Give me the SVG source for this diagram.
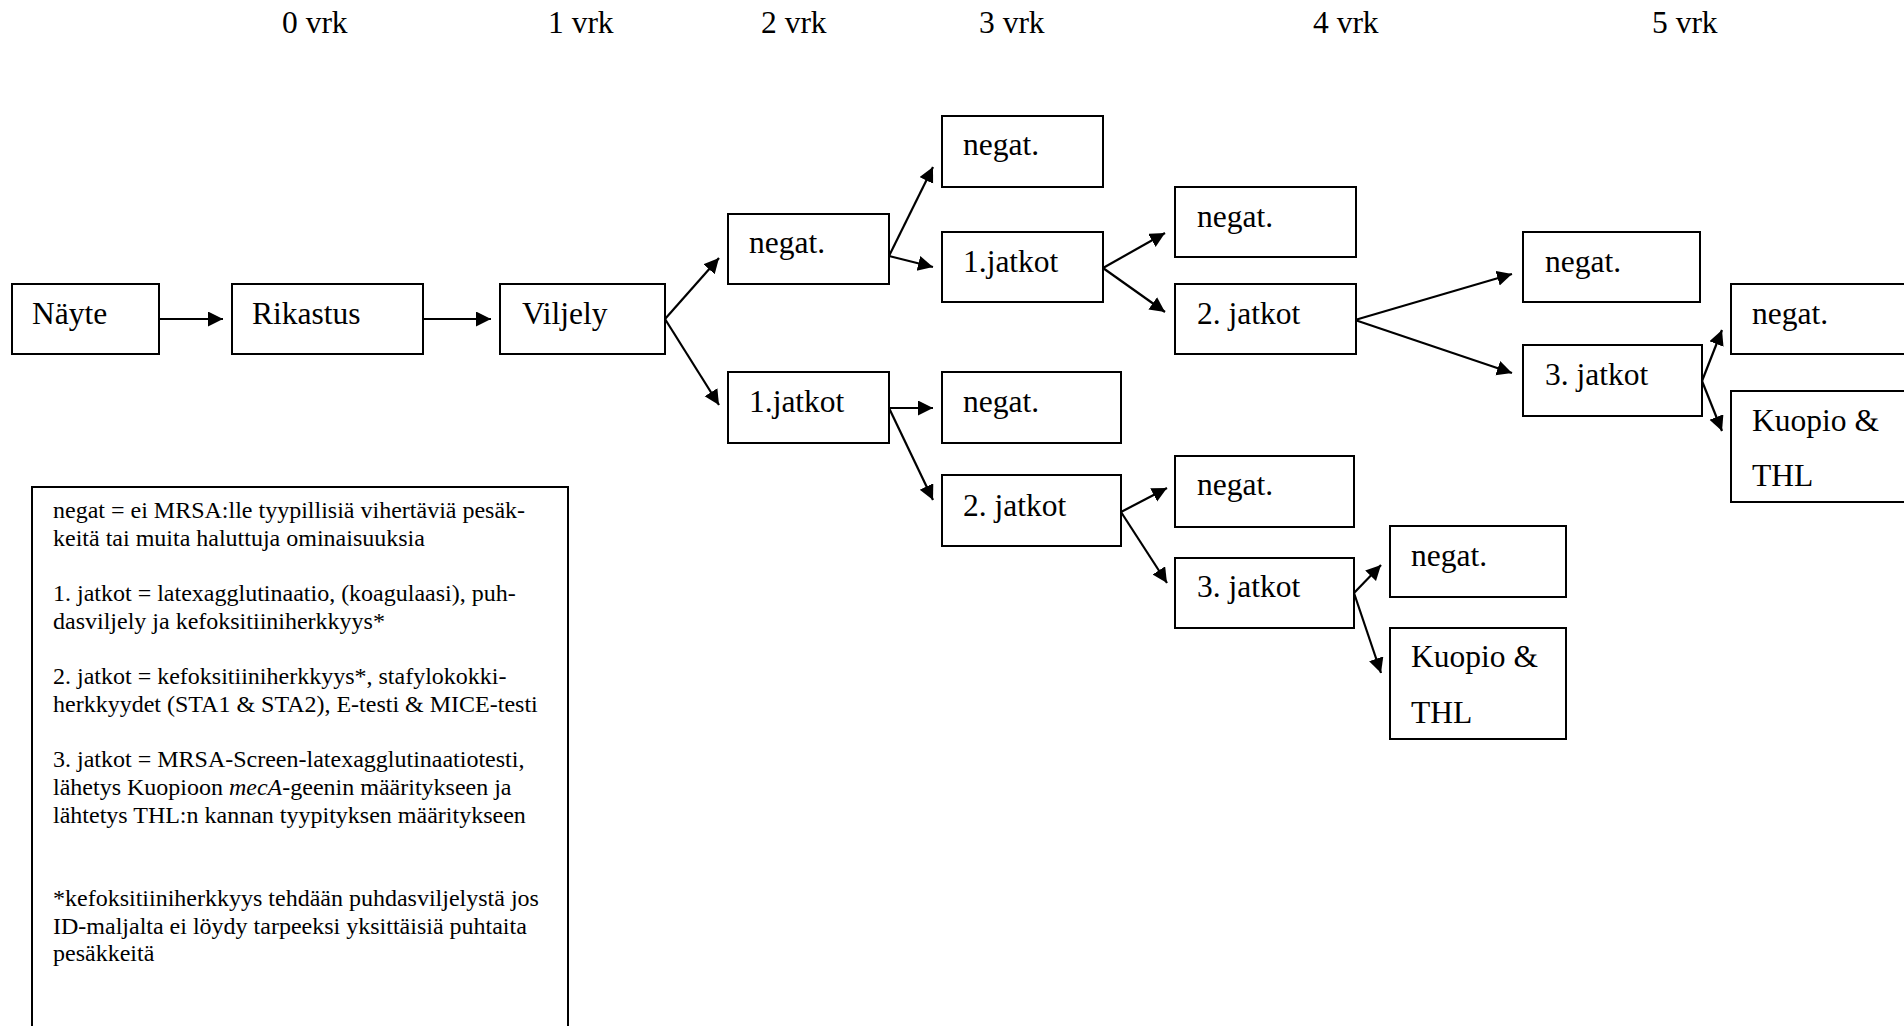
<svg xmlns="http://www.w3.org/2000/svg" width="1904" height="1026" viewBox="0 0 1904 1026">
<style>
  text { font-family: "Liberation Serif", "Times New Roman", serif; fill: #000; }
  .hdr { font-size: 31.5px; }
  .lbl { font-size: 31.5px; }
  .box { fill: #fff; stroke: #000; stroke-width: 2; }
  .leg { font-size: 24px; }
  .con { stroke: #000; stroke-width: 2.2; fill: none; marker-end: url(#ah); }
</style>
<defs>
  <marker id="ah" markerUnits="userSpaceOnUse" markerWidth="16" markerHeight="16" refX="15" refY="7.5" orient="auto">
    <path d="M0,0 L15,7.5 L0,15 Z" fill="#000"/>
  </marker>
</defs>
<rect x="0" y="0" width="1904" height="1026" fill="#fff"/>

<g id="headers">
  <text class="hdr" x="282" y="33">0 vrk</text>
  <text class="hdr" x="548" y="33">1 vrk</text>
  <text class="hdr" x="761" y="33">2 vrk</text>
  <text class="hdr" x="979" y="33">3 vrk</text>
  <text class="hdr" x="1313" y="33">4 vrk</text>
  <text class="hdr" x="1652" y="33">5 vrk</text>
</g>

<g id="connectors">
  <line class="con" x1="159" y1="319" x2="223" y2="319"/>
  <line class="con" x1="423" y1="319" x2="491" y2="319"/>
  <line class="con" x1="665" y1="319" x2="719" y2="258"/>
  <line class="con" x1="665" y1="319" x2="719" y2="405"/>
  <line class="con" x1="889" y1="256" x2="933" y2="167"/>
  <line class="con" x1="889" y1="256" x2="933" y2="267"/>
  <line class="con" x1="889" y1="408" x2="933" y2="408"/>
  <line class="con" x1="889" y1="408" x2="933" y2="500"/>
  <line class="con" x1="1103" y1="268" x2="1165" y2="233"/>
  <line class="con" x1="1103" y1="268" x2="1165" y2="312"/>
  <line class="con" x1="1121" y1="512" x2="1167" y2="488"/>
  <line class="con" x1="1121" y1="512" x2="1167" y2="583"/>
  <line class="con" x1="1355" y1="320" x2="1512" y2="274"/>
  <line class="con" x1="1355" y1="320" x2="1512" y2="373"/>
  <line class="con" x1="1354" y1="593" x2="1381" y2="565"/>
  <line class="con" x1="1354" y1="593" x2="1381" y2="673"/>
  <line class="con" x1="1702" y1="381" x2="1722" y2="330"/>
  <line class="con" x1="1702" y1="381" x2="1722" y2="431"/>
</g>

<g id="n-nayte"><rect class="box" x="12" y="284" width="147" height="70"/><text class="lbl" x="32" y="324">Näyte</text></g>
<g id="n-rikastus"><rect class="box" x="232" y="284" width="191" height="70"/><text class="lbl" x="252" y="324">Rikastus</text></g>
<g id="n-viljely"><rect class="box" x="500" y="284" width="165" height="70"/><text class="lbl" x="522" y="324">Viljely</text></g>

<g id="n-negat-2a"><rect class="box" x="728" y="214" width="161" height="70"/><text class="lbl" x="749" y="253">negat.</text></g>
<g id="n-jatkot1-2"><rect class="box" x="728" y="372" width="161" height="71"/><text class="lbl" x="749" y="412">1.jatkot</text></g>

<g id="n-negat-3a"><rect class="box" x="942" y="116" width="161" height="71"/><text class="lbl" x="963" y="155">negat.</text></g>
<g id="n-jatkot1-3"><rect class="box" x="942" y="232" width="161" height="70"/><text class="lbl" x="963" y="272">1.jatkot</text></g>
<g id="n-negat-3b"><rect class="box" x="942" y="372" width="179" height="71"/><text class="lbl" x="963" y="412">negat.</text></g>
<g id="n-jatkot2-3"><rect class="box" x="942" y="475" width="179" height="71"/><text class="lbl" x="963" y="516">2. jatkot</text></g>

<g id="n-negat-4a"><rect class="box" x="1175" y="187" width="181" height="70"/><text class="lbl" x="1197" y="227">negat.</text></g>
<g id="n-jatkot2-4"><rect class="box" x="1175" y="284" width="181" height="70"/><text class="lbl" x="1197" y="324">2. jatkot</text></g>
<g id="n-negat-4b"><rect class="box" x="1175" y="456" width="179" height="71"/><text class="lbl" x="1197" y="495">negat.</text></g>
<g id="n-jatkot3-4"><rect class="box" x="1175" y="558" width="179" height="70"/><text class="lbl" x="1197" y="597">3. jatkot</text></g>

<g id="n-negat-4c"><rect class="box" x="1390" y="526" width="176" height="71"/><text class="lbl" x="1411" y="566">negat.</text></g>
<g id="n-kuopio-4"><rect class="box" x="1390" y="628" width="176" height="111"/><text class="lbl" x="1411" y="667">Kuopio &amp;</text><text class="lbl" x="1411" y="723">THL</text></g>

<g id="n-negat-5a"><rect class="box" x="1523" y="232" width="177" height="70"/><text class="lbl" x="1545" y="272">negat.</text></g>
<g id="n-jatkot3-5"><rect class="box" x="1523" y="345" width="179" height="71"/><text class="lbl" x="1545" y="385">3. jatkot</text></g>

<g id="n-negat-5b"><rect class="box" x="1731" y="284" width="190" height="70"/><text class="lbl" x="1752" y="324">negat.</text></g>
<g id="n-kuopio-5"><rect class="box" x="1731" y="391" width="190" height="111"/><text class="lbl" x="1752" y="431">Kuopio &amp;</text><text class="lbl" x="1752" y="486">THL</text></g>

<g id="legend">
  <path d="M32,1040 L32,487 L568,487 L568,1040" fill="none" stroke="#000" stroke-width="2"/>
  <text class="leg" x="53" y="518">negat = ei MRSA:lle tyypillisiä vihertäviä pesäk-</text>
  <text class="leg" x="53" y="546">keitä tai muita haluttuja ominaisuuksia</text>
  <text class="leg" x="53" y="601">1. jatkot = latexagglutinaatio, (koagulaasi), puh-</text>
  <text class="leg" x="53" y="629">dasviljely ja kefoksitiiniherkkyys*</text>
  <text class="leg" x="53" y="684">2. jatkot = kefoksitiiniherkkyys*, stafylokokki-</text>
  <text class="leg" x="53" y="712">herkkyydet (STA1 &amp; STA2), E-testi &amp; MICE-testi</text>
  <text class="leg" x="53" y="767">3. jatkot = MRSA-Screen-latexagglutinaatiotesti,</text>
  <text class="leg" x="53" y="795">lähetys Kuopioon <tspan font-style="italic">mecA</tspan>-geenin määritykseen ja</text>
  <text class="leg" x="53" y="823">lähtetys THL:n kannan tyypityksen määritykseen</text>
  <text class="leg" x="53" y="906">*kefoksitiiniherkkyys tehdään puhdasviljelystä jos</text>
  <text class="leg" x="53" y="934">ID-maljalta ei löydy tarpeeksi yksittäisiä puhtaita</text>
  <text class="leg" x="53" y="961">pesäkkeitä</text>
</g>
</svg>
